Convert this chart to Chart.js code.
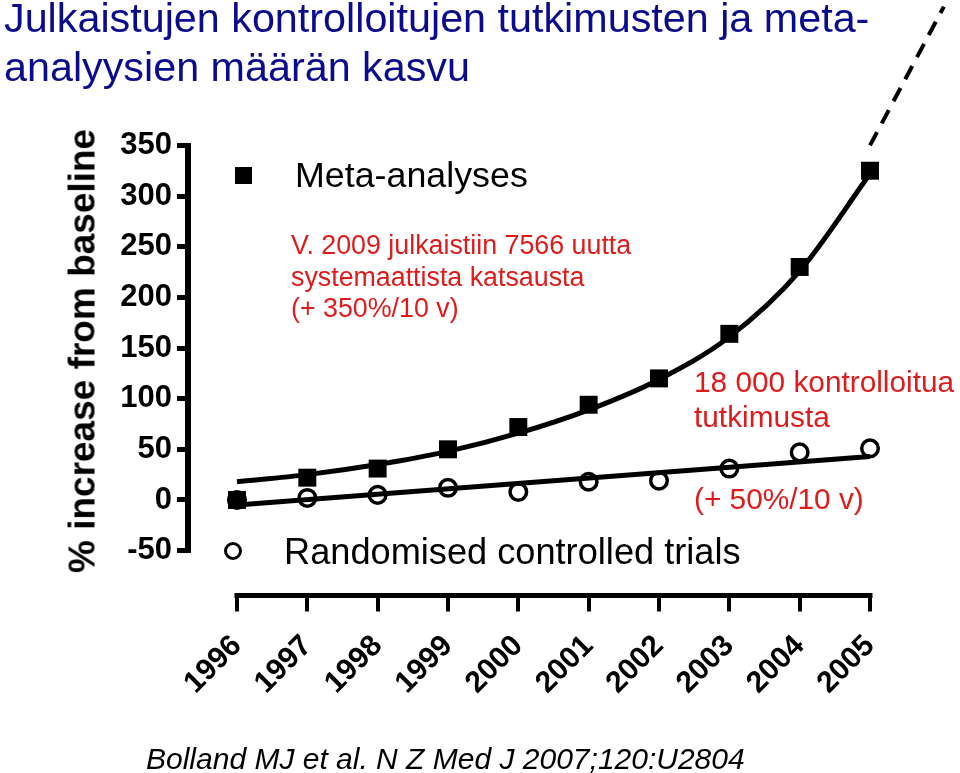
<!DOCTYPE html>
<html>
<head>
<meta charset="utf-8">
<script src="https://cdn.jsdelivr.net/npm/chart.js@4.4.1/dist/chart.umd.min.js"></script>
<style>
html,body{margin:0;padding:0;background:#fff;}
#wrap{position:relative;width:960px;height:773px;overflow:hidden;font-family:"Liberation Sans",Arial,sans-serif;background:#fff;}
#c{position:absolute;left:0;top:0;}
.t{position:absolute;white-space:nowrap;}
.red{color:#e01b1b;}
</style>
</head>
<body>
<div id="wrap">
<canvas id="c" width="960" height="773"></canvas>
<div class="t" style="left:4px;top:-6px;font-size:41.3px;line-height:49px;color:#0b0b8e;">Julkaistujen kontrolloitujen tutkimusten ja meta-<br>analyysien määrän kasvu</div>
<div class="t" style="left:82px;top:351px;font-size:37px;line-height:37px;font-weight:bold;color:#000;transform:translate(-50%,-50%) rotate(-90deg);">% increase from baseline</div>
<div class="t" style="left:235px;top:167px;width:17px;height:17px;background:#000;"></div>
<div class="t" style="left:295px;top:158px;font-size:35.8px;line-height:35px;color:#000;">Meta-analyses</div>
<div class="t" style="left:224px;top:542px;width:12px;height:12px;border:3.5px solid #000;border-radius:50%;"></div>
<div class="t" style="left:284px;top:534px;font-size:36.2px;line-height:35px;color:#000;">Randomised controlled trials</div>
<div class="t red" style="left:291px;top:230px;font-size:26.8px;line-height:31.5px;">V. 2009 julkaistiin 7566 uutta<br>systemaattista katsausta<br>(+ 350%/10 v)</div>
<div class="t red" style="left:694px;top:364px;font-size:29.8px;line-height:35px;">18 000 kontrolloitua<br>tutkimusta</div>
<div class="t red" style="left:694px;top:481px;font-size:29.8px;line-height:35px;">(+ 50%/10 v)</div>
<div class="t" style="left:146px;top:741px;font-size:30px;line-height:35px;font-style:italic;color:#000;">Bolland MJ et al. N Z Med J 2007;120:U2804</div>
</div>
<script>
// ---- data ----
const years = [1996, 1997, 1998, 1999, 2000, 2001, 2002, 2003, 2004, 2005];
const metaAnalyses = [0, 22, 31, 50, 72, 94, 120, 164, 230, 325];
const randomisedTrials = [0, 2, 5, 12, 8, 18, 19, 31, 47, 51];
const metaFitCurve = [18, 25, 35, 48, 66, 89, 119, 161, 226, 322];
const rctFitYears = [1996, 2005];
const rctFitLine = [-5, 43];
const projectionYears = [2005, 2006.05];
const projectionValues = [350, 487];
const yTickValues = [-50, 0, 50, 100, 150, 200, 250, 300, 350];
const xTickValues = years;

const FONT = "'Liberation Sans', Arial, sans-serif";
const pts = (xs, ys) => xs.map((x, i) => ({x: x, y: ys[i]}));

const axisLines = {
  id: 'axisLines',
  beforeDatasetsDraw(chart) {
    const ctx = chart.ctx, xs = chart.scales.x, ys = chart.scales.y;
    ctx.save();
    ctx.strokeStyle = '#000';
    ctx.lineCap = 'butt';
    ctx.lineWidth = 5;
    const yx = xs.top;
    ctx.beginPath();
    ctx.moveTo(xs.getPixelForValue(xTickValues[0]) - 2.5, yx);
    ctx.lineTo(xs.getPixelForValue(xTickValues[xTickValues.length - 1]) + 2.5, yx);
    ctx.stroke();
    ctx.lineWidth = 6;
    const xy = ys.right - 1;
    ctx.beginPath();
    ctx.moveTo(xy, ys.getPixelForValue(yTickValues[yTickValues.length - 1]) - 2.5);
    ctx.lineTo(xy, ys.getPixelForValue(yTickValues[0]) + 2.5);
    ctx.stroke();
    ctx.restore();
  }
};

new Chart(document.getElementById('c'), {
  type: 'line',
  data: {
    datasets: [
      {
        label: 'Meta-analyses',
        data: pts(years, metaAnalyses),
        showLine: false,
        pointStyle: 'rect',
        pointRadius: 12.7,
        pointBackgroundColor: '#000',
        pointBorderColor: '#000',
        pointBorderWidth: 0,
        clip: false
      },
      {
        label: 'Randomised controlled trials',
        data: pts(years, randomisedTrials),
        showLine: false,
        pointStyle: 'circle',
        pointRadius: 8.3,
        pointBackgroundColor: 'rgba(0,0,0,0)',
        pointBorderColor: '#000',
        pointBorderWidth: 3.5,
        clip: false
      },
      {
        label: 'Meta fit',
        data: pts(years, metaFitCurve),
        borderColor: '#000',
        borderWidth: 5,
        pointRadius: 0,
        cubicInterpolationMode: 'monotone',
        fill: false,
        clip: false
      },
      {
        label: 'RCT fit',
        data: pts(rctFitYears, rctFitLine),
        borderColor: '#000',
        borderWidth: 5,
        pointRadius: 0,
        fill: false,
        clip: false
      },
      {
        label: 'Projection',
        data: pts(projectionYears, projectionValues),
        borderColor: '#000',
        borderWidth: 4,
        borderDash: [15, 10],
        pointRadius: 0,
        fill: false,
        clip: false
      }
    ]
  },
  options: {
    responsive: false,
    animation: false,
    devicePixelRatio: 1,
    layout: { padding: { top: 145.4, right: 90, left: 0, bottom: 0 } },
    plugins: { legend: { display: false }, tooltip: { enabled: false } },
    scales: {
      x: {
        type: 'linear',
        min: 1995.318,
        max: 2005,
        afterBuildTicks: s => { s.ticks = xTickValues.map(v => ({value: v})); },
        afterFit: s => { s.height = 177.5; },
        border: { display: false },
        grid: { drawOnChartArea: false, drawTicks: true, tickLength: 16, lineWidth: 4, color: '#000' },
        ticks: {
          autoSkip: false,
          minRotation: 45,
          maxRotation: 45,
          padding: 19,
          color: '#000',
          font: { family: FONT, size: 30, weight: 'bold', lineHeight: 1 },
          callback: v => String(v)
        }
      },
      y: {
        type: 'linear',
        min: -94.3,
        max: 350,
        afterBuildTicks: s => { s.ticks = yTickValues.map(v => ({value: v})); },
        afterFit: s => { s.width = 189; },
        border: { display: false },
        grid: { drawOnChartArea: false, drawTicks: true, tickLength: 12, lineWidth: 5, color: '#000' },
        ticks: {
          padding: 5,
          color: '#000',
          font: { family: FONT, size: 31, weight: 'bold' },
          callback: v => String(v)
        }
      }
    }
  },
  plugins: [axisLines]
});
</script>
</body>
</html>
